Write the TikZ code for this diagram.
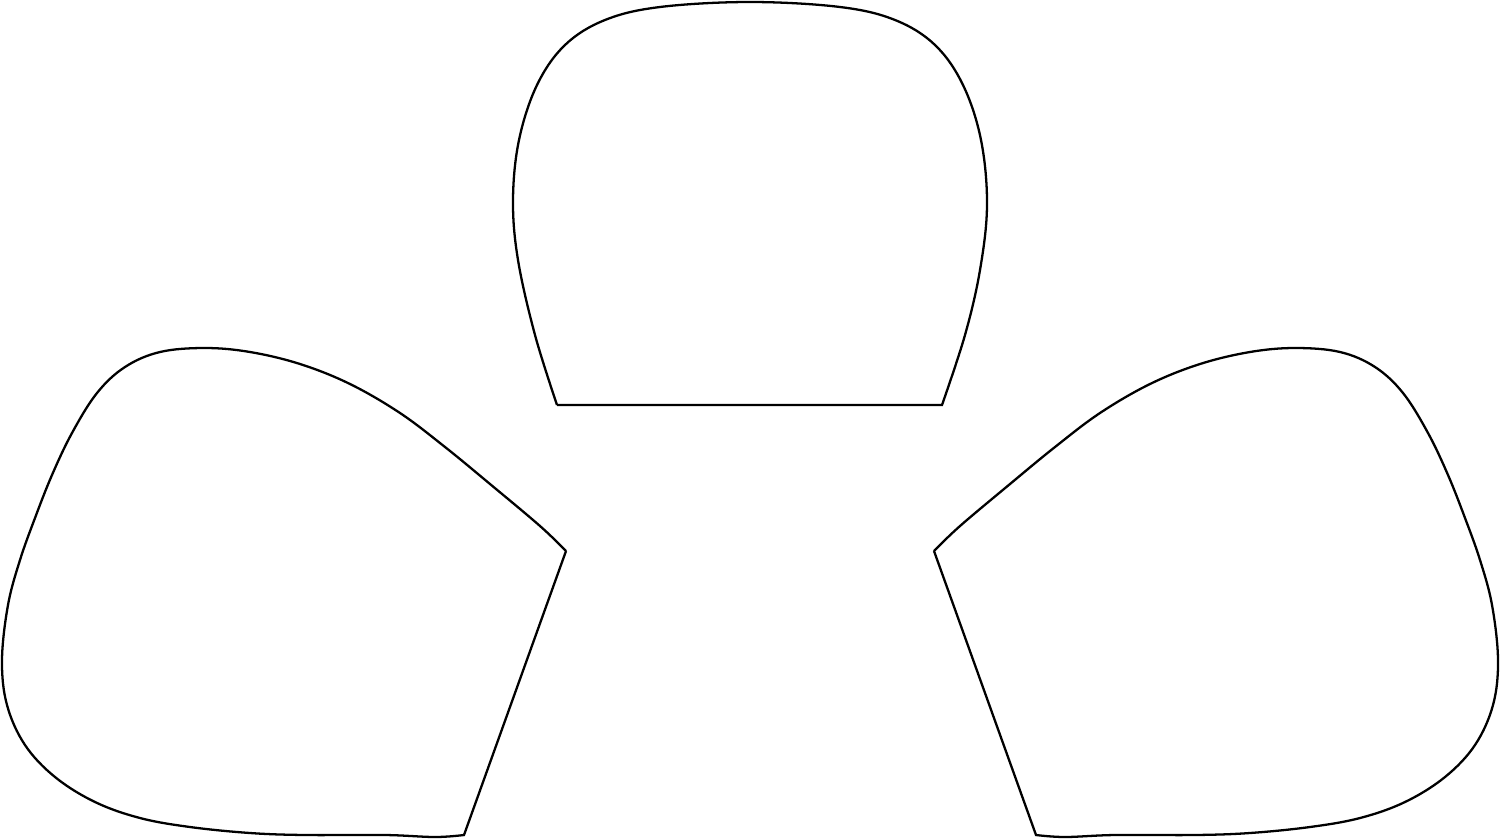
\documentclass[tikz,border=0pt]{standalone}
\usepackage{tikz}

\begin{document}
\begin{tikzpicture}
  [x=0.01cm, y=-0.01cm, petal/.style={line width=0.65pt, line join=miter}]
  \useasboundingbox (0, 0) rectangle (1500, 839);
  % top petal
  \draw[petal] (557, 405) -- (942, 405)
    -- plot[smooth, tension=0.6] coordinates {(942, 405) (965, 335) (980, 270) (987, 205)
      (981, 140) (963, 85) (935, 45) (895, 20) (840, 7) (750, 2) (660, 7) (605, 20)
      (565, 45) (537, 85) (519, 140) (513, 200) (518, 260) (535, 335) (557, 405)};
  % left petal
  \draw[petal] (566, 551) -- (464, 835)
    -- plot[smooth, tension=0.6] coordinates {(464, 835) (435, 837) (385, 835) (305, 835)
      (250, 833) (190, 827) (140, 818) (95, 802) (55, 777) (25, 745) (7, 705) (2, 660)
      (8, 605) (20, 560) (35, 518) (52, 475) (72, 433) (97, 393) (125, 367) (160, 352)
      (205, 348) (250, 352) (300, 364) (350, 384) (400, 413) (445, 447) (490, 484)
      (540, 526) (566, 551)};
  % right petal
  \draw[petal] (934, 551) -- (1036, 835)
    -- plot[smooth, tension=0.6] coordinates {(1036, 835) (1065, 837) (1115, 835) (1195, 835)
      (1250, 833) (1310, 827) (1360, 818) (1405, 802) (1445, 777) (1475, 745) (1493, 705)
      (1498, 660) (1492, 605) (1480, 560) (1465, 518) (1448, 475) (1428, 433) (1403, 393)
      (1375, 367) (1340, 352) (1295, 348) (1250, 352) (1200, 364) (1150, 384) (1100, 413)
      (1055, 447) (1010, 484) (960, 526) (934, 551)};
\end{tikzpicture}
\end{document}
